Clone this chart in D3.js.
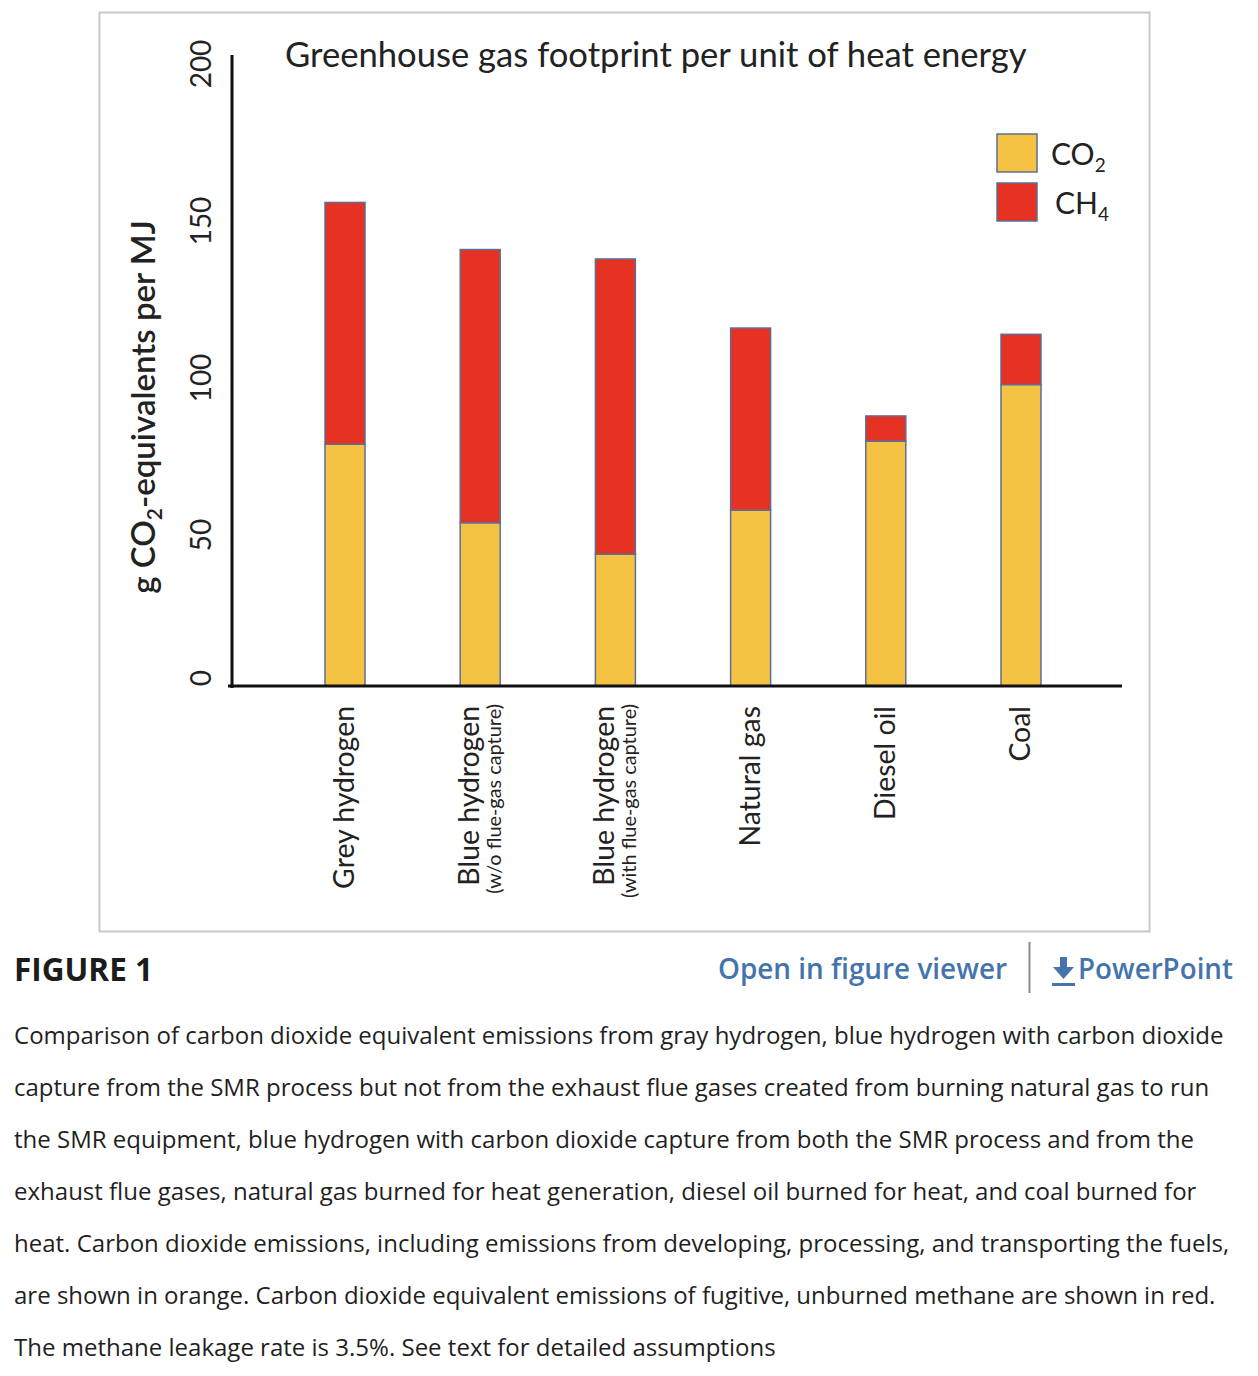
<!DOCTYPE html>
<html>
<head>
<meta charset="utf-8">
<script src="https://cdn.jsdelivr.net/npm/d3@7"></script>
<style>
  body { margin: 0; background: #fff; }
  svg { display: block; }
</style>
</head>
<body>
<div id="chart"></div>
<script>
// DATA
var categories = ["Grey hydrogen", "Blue hydrogen", "Blue hydrogen", "Natural gas", "Diesel oil", "Coal"];
var subLabels = ["", "(w/o flue-gas capture)", "(with flue-gas capture)", "", "", ""];
var co2 = [77, 52, 42, 56, 78, 96];
var ch4 = [77, 87, 94, 58, 8, 16];
var yTicks = [0, 50, 100, 150, 200];
var seriesNames = ["CO2", "CH4"];
var captionLines = [
  "Comparison of carbon dioxide equivalent emissions from gray hydrogen, blue hydrogen with carbon dioxide",
  "capture from the SMR process but not from the exhaust flue gases created from burning natural gas to run",
  "the SMR equipment, blue hydrogen with carbon dioxide capture from both the SMR process and from the",
  "exhaust flue gases, natural gas burned for heat generation, diesel oil burned for heat, and coal burned for",
  "heat. Carbon dioxide emissions, including emissions from developing, processing, and transporting the fuels,",
  "are shown in orange. Carbon dioxide equivalent emissions of fugitive, unburned methane are shown in red.",
  "The methane leakage rate is 3.5%. See text for detailed assumptions"
];

var colours = { CO2: "#f5c344", CH4: "#e63222" };
var chartFont = "Lato, 'Open Sans', sans-serif";
var pageFont = "'Open Sans', sans-serif";

var svg = d3.select("#chart").append("svg")
  .attr("width", 1258)
  .attr("height", 1376);

// fit a text to a target width by changing its font size
function fit(sel, width) {
  var w = sel.node().getComputedTextLength();
  var fs = parseFloat(sel.attr("font-size"));
  sel.attr("font-size", fs * width / w);
  return sel;
}

// figure frame
svg.append("rect")
  .attr("x", 99.5).attr("y", 12.5)
  .attr("width", 1050).attr("height", 919)
  .attr("fill", "#fff")
  .attr("stroke", "#c9c9c9")
  .attr("stroke-width", 2);

// scales
var x = d3.scalePoint()
  .domain(d3.range(categories.length))
  .range([345, 1021]);

var y = d3.scaleLinear()
  .domain([0, 200])
  .range([686, 58]);

var barW = 40;

var stacked = d3.stack().keys(seriesNames)(
  co2.map(function(d, i) { return { i: i, CO2: d, CH4: ch4[i] }; })
);

var g = svg.append("g");

g.selectAll("g.series")
  .data(stacked)
  .enter()
  .append("g")
  .attr("class", "series")
  .attr("fill", function(d) { return colours[d.key]; })
  .selectAll("rect")
  .data(function(d) { return d; })
  .enter()
  .append("rect")
  .attr("x", function(d) { return x(d.data.i) - barW / 2; })
  .attr("y", function(d) { return y(d[1]); })
  .attr("width", barW)
  .attr("height", function(d) { return y(d[0]) - y(d[1]); })
  .attr("stroke", "#5d6f95")
  .attr("stroke-width", 1.5);

// axes (plain lines, no tick marks)
g.append("line")
  .attr("x1", 232).attr("x2", 232)
  .attr("y1", 55).attr("y2", 688)
  .attr("stroke", "#111").attr("stroke-width", 3);
g.append("line")
  .attr("x1", 228).attr("x2", 1122)
  .attr("y1", y(0)).attr("y2", y(0))
  .attr("stroke", "#111").attr("stroke-width", 3);

// y tick labels, rotated
g.selectAll("text.ytick")
  .data(yTicks)
  .enter()
  .append("text")
  .attr("class", "ytick")
  .attr("transform", function(d) {
    var yy = d === 0 ? y(d) - 8 : y(d) + 6;
    return "translate(211," + yy + ")rotate(-90)";
  })
  .attr("text-anchor", "middle")
  .attr("font-family", chartFont)
  .attr("font-size", 28)
  .attr("fill", "#222")
  .text(function(d) { return d; });

// y axis label
var yl = g.append("text")
  .attr("transform", "translate(155,407)rotate(-90)")
  .attr("text-anchor", "middle")
  .attr("font-family", chartFont)
  .attr("font-weight", 600)
  .attr("font-size", 33)
  .attr("fill", "#222");
yl.append("tspan").text("g CO");
yl.append("tspan").attr("font-size", 21).attr("dy", 7).text("2");
yl.append("tspan").attr("dy", -7).text("-equivalents per MJ");

// title
fit(g.append("text")
  .attr("x", 285).attr("y", 67)
  .attr("font-family", chartFont)
  .attr("font-size", 33)
  .attr("fill", "#222")
  .text("Greenhouse gas footprint per unit of heat energy"), 742);

// x category labels
var xl = g.selectAll("g.xlab")
  .data(categories)
  .enter()
  .append("g")
  .attr("class", "xlab")
  .attr("transform", function(d, i) {
    var shift = subLabels[i] ? -10 : 0;
    return "translate(" + (x(i) + shift) + ",0)";
  });

var mainLabs = xl.append("text")
  .attr("transform", "translate(9,706)rotate(-90)")
  .attr("text-anchor", "end")
  .attr("font-family", chartFont)
  .attr("font-size", 28)
  .attr("fill", "#222")
  .text(function(d) { return d; });
fit(mainLabs, 183);

var subs = xl.filter(function(d, i) { return subLabels[i]; })
  .append("text")
  .attr("transform", "translate(31,704)rotate(-90)")
  .attr("text-anchor", "end")
  .attr("font-family", chartFont)
  .attr("font-size", 17)
  .attr("fill", "#222")
  .text(function(d) { return subLabels[categories.indexOf(d)]; });
// second blue hydrogen label
subs.filter(function(d, j) { return j === 1; }).text(subLabels[2]);
fit(subs, 190);

// legend
var legend = g.selectAll("g.legend")
  .data(seriesNames)
  .enter()
  .append("g")
  .attr("class", "legend")
  .attr("transform", function(d, i) { return "translate(997," + (134 + i * 49) + ")"; });
legend.append("rect")
  .attr("width", 40).attr("height", 38)
  .attr("fill", function(d) { return colours[d]; })
  .attr("stroke", "#5d6f95")
  .attr("stroke-width", 1.5);
legend.each(function(d, i) {
  var t = d3.select(this).append("text")
    .attr("x", i === 0 ? 54 : 58).attr("y", 31)
    .attr("font-family", chartFont)
    .attr("font-size", 30)
    .attr("fill", "#222");
  t.append("tspan").text(d.slice(0, 2));
  t.append("tspan").attr("font-size", 19).attr("dy", 7).text(d.slice(2));
});

// caption header
svg.append("text")
  .attr("x", 14).attr("y", 981)
  .attr("font-family", pageFont)
  .attr("font-weight", 700)
  .attr("font-size", 33)
  .attr("fill", "#1c1c1c")
  .attr("textLength", 139)
  .attr("lengthAdjust", "spacingAndGlyphs")
  .text("FIGURE 1");

svg.append("text")
  .attr("x", 718).attr("y", 979)
  .attr("font-family", pageFont)
  .attr("font-weight", 600)
  .attr("font-size", 29)
  .attr("fill", "#4574ac")
  .attr("textLength", 289)
  .attr("lengthAdjust", "spacingAndGlyphs")
  .text("Open in figure viewer");

svg.append("line")
  .attr("x1", 1029.5).attr("x2", 1029.5)
  .attr("y1", 942).attr("y2", 993)
  .attr("stroke", "#8a8a8a").attr("stroke-width", 2);

// download icon
var icon = svg.append("g").attr("fill", "#4574ac");
icon.append("rect").attr("x", 1060).attr("y", 957).attr("width", 7).attr("height", 11);
icon.append("path").attr("d", "M1053,967 L1074,967 L1063.5,979 Z");
icon.append("rect").attr("x", 1052).attr("y", 983).attr("width", 23).attr("height", 3);

svg.append("text")
  .attr("x", 1078).attr("y", 979)
  .attr("font-family", pageFont)
  .attr("font-weight", 600)
  .attr("font-size", 29)
  .attr("fill", "#4574ac")
  .attr("textLength", 155)
  .attr("lengthAdjust", "spacingAndGlyphs")
  .text("PowerPoint");

// caption body
var cap = svg.selectAll("text.cap")
  .data(captionLines)
  .enter()
  .append("text")
  .attr("class", "cap")
  .attr("x", 14)
  .attr("y", function(d, i) { return 1044 + i * 52; })
  .attr("font-family", pageFont)
  .attr("font-size", 23)
  .attr("fill", "#1f1f1f")
  .text(function(d) { return d; });
var kc = 1210 / cap.nodes()[0].getComputedTextLength();
cap.attr("font-size", 23 * kc);
</script>
</body>
</html>
